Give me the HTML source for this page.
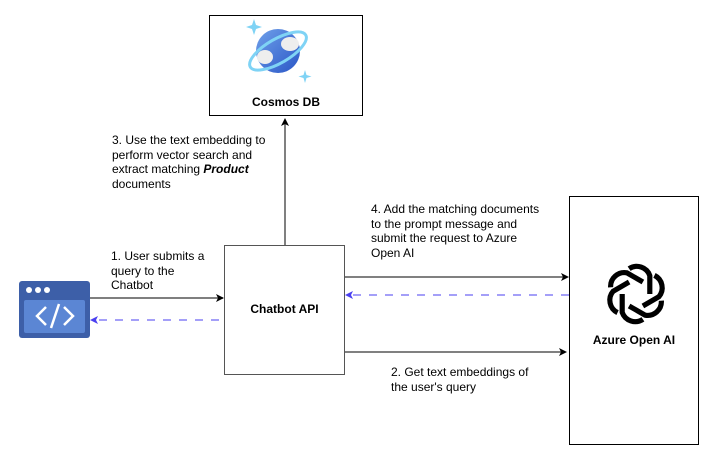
<!DOCTYPE html>
<html><head><style>
body{margin:0;width:706px;height:453px;background:#fff;overflow:hidden;font-family:"Liberation Sans",Arial,sans-serif;}
.t{position:absolute;font-size:12px;line-height:14.5px;color:#000;}
</style></head><body>
<svg width="706" height="453" style="position:absolute;left:0;top:0">
<defs>
<marker id="ab" markerWidth="8" markerHeight="8" refX="7" refY="4" orient="auto" markerUnits="userSpaceOnUse"><path d="M0,0 L8,4 L0,8 L2,4 z" fill="#000"/></marker>
<marker id="ap" markerWidth="8" markerHeight="8" refX="7" refY="4" orient="auto" markerUnits="userSpaceOnUse"><path d="M0,0 L8,4 L0,8 L2,4 z" fill="#4a3ff0"/></marker>
<linearGradient id="g" x1="0" y1="0" x2="1" y2="1"><stop offset="0" stop-color="#6fa0ea"/><stop offset="1" stop-color="#2a56c6"/></linearGradient>
</defs>
<rect x="209.5" y="15.5" width="153" height="100" fill="#fff" stroke="#000"/>
<rect x="224.5" y="245.5" width="120" height="129" fill="#fff" stroke="#555"/>
<rect x="569.5" y="196.5" width="129" height="248" fill="#fff" stroke="#000"/>
<circle cx="278" cy="51" r="22" fill="url(#g)"/>
<ellipse cx="278" cy="51" rx="32" ry="12" transform="rotate(-30 278 51)" fill="none" stroke="#7fd3f5" stroke-width="3"/>
<ellipse cx="290" cy="44" rx="9" ry="7" fill="#eee"/>
<ellipse cx="265" cy="57" rx="8" ry="7" fill="#eee"/>
<path d="M254,19 l2,6 6,2 -6,2 -2,6 -2,-6 -6,-2 6,-2z" fill="#7fd3f5"/>
<path d="M305,70 l1.5,5 5,1.5 -5,1.5 -1.5,5 -1.5,-5 -5,-1.5 5,-1.5z" fill="#7fd3f5"/>
<rect x="19" y="281" width="71" height="57" rx="3" fill="#3d5fa8"/>
<rect x="24" y="300" width="61" height="33" rx="2" fill="#5b86d4"/>
<circle cx="29" cy="290" r="3" fill="#fff"/><circle cx="38" cy="290" r="3" fill="#fff"/><circle cx="47" cy="290" r="3" fill="#fff"/>
<path d="M46,307 l-9,9 9,9 M64,307 l9,9 -9,9 M59,304 l-8,24" stroke="#fff" stroke-width="2.5" fill="none"/>
<g transform="translate(636,294) scale(1.15)" fill="none" stroke="#000" stroke-width="4.5">
<g id="p"><path d="M-6,-22 a12,12 0 0 1 18,6 v16"/></g>
<use href="#p" transform="rotate(60)"/><use href="#p" transform="rotate(120)"/><use href="#p" transform="rotate(180)"/><use href="#p" transform="rotate(240)"/><use href="#p" transform="rotate(300)"/>
</g>
<line x1="285" y1="245" x2="285" y2="119" stroke="#000" marker-end="url(#ab)"/>
<line x1="90" y1="298" x2="223" y2="298" stroke="#555" stroke-width="1.5" marker-end="url(#ab)"/>
<line x1="219" y1="320" x2="91" y2="320" stroke="#4a3ff0" stroke-dasharray="8,8" marker-end="url(#ap)"/>
<line x1="345" y1="277" x2="568" y2="277" stroke="#000" marker-end="url(#ab)"/>
<line x1="569" y1="295" x2="346" y2="295" stroke="#4a3ff0" stroke-dasharray="8,8" marker-end="url(#ap)"/>
<line x1="345" y1="352" x2="566" y2="352" stroke="#000" marker-end="url(#ab)"/>
</svg>
<div class="t" style="left:209px;top:95px;width:154px;text-align:center;font-weight:bold">Cosmos DB</div>
<div class="t" style="left:224px;top:302px;width:121px;text-align:center;font-weight:bold">Chatbot API</div>
<div class="t" style="left:569px;top:333px;width:130px;text-align:center;font-weight:bold">Azure Open AI</div>
<div class="t" style="left:112px;top:133px">3. Use the text embedding to<br>perform vector search and<br>extract matching <b><i>Product</i></b><br>documents</div>
<div class="t" style="left:111px;top:249px">1. User submits a<br>query to the<br>Chatbot</div>
<div class="t" style="left:371px;top:202px">4. Add the matching documents<br>to the prompt message and<br>submit the request to Azure<br>Open AI</div>
<div class="t" style="left:391px;top:365px">2. Get text embeddings of<br>the user's query</div>
</body></html>
